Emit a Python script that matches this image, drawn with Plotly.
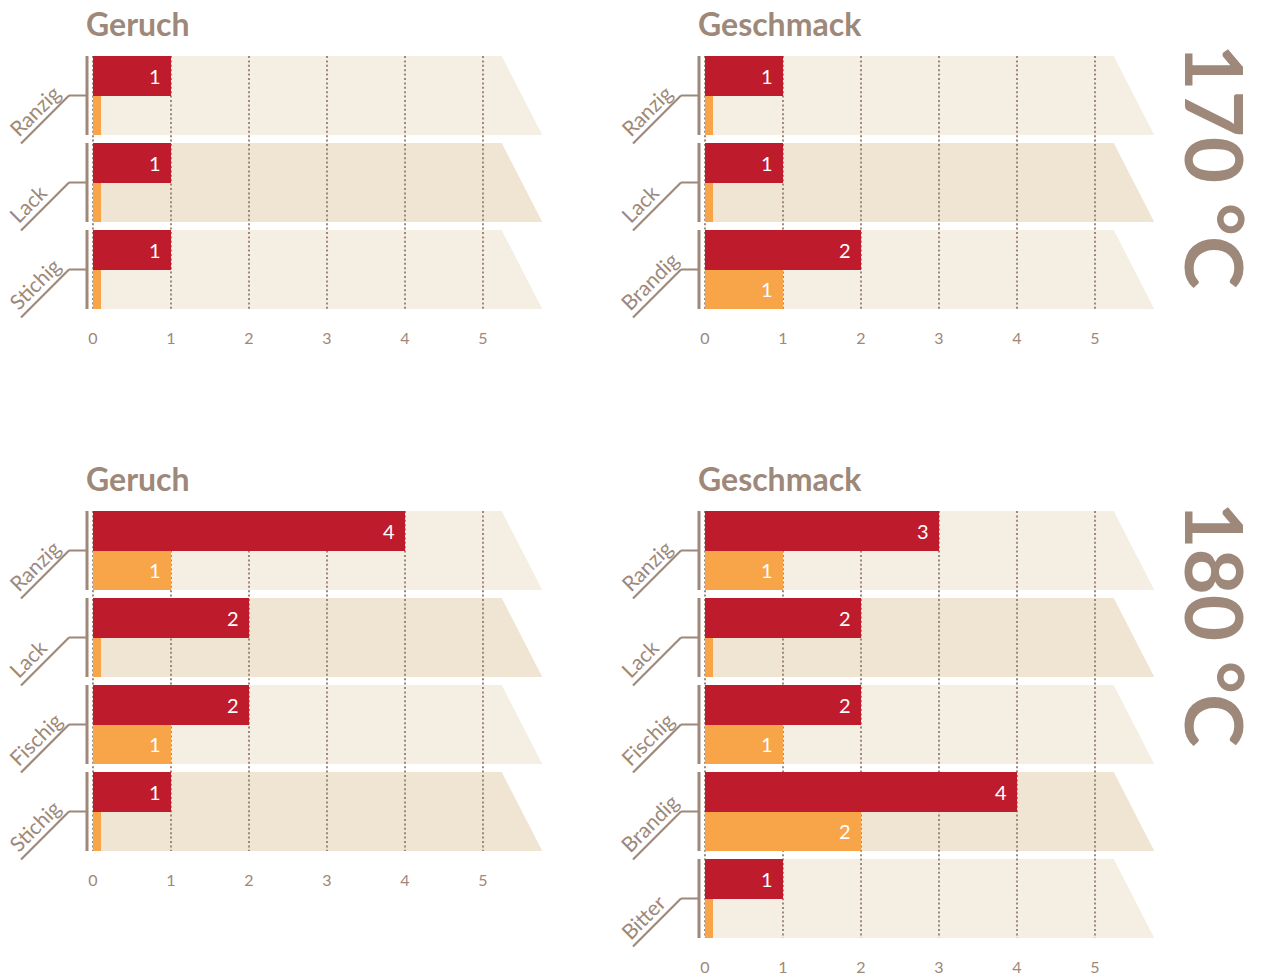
import plotly.graph_objects as go

# ---------------- data ----------------
temperatures = ["170 °C", "180 °C"]
panel_titles = ["Geruch", "Geschmack", "Geruch", "Geschmack"]

geruch170_cats = ["Ranzig", "Lack", "Stichig"]
geruch170_red = [1, 1, 1]
geruch170_orange = [0, 0, 0]

geschmack170_cats = ["Ranzig", "Lack", "Brandig"]
geschmack170_red = [1, 1, 2]
geschmack170_orange = [0, 0, 1]

geruch180_cats = ["Ranzig", "Lack", "Fischig", "Stichig"]
geruch180_red = [4, 2, 2, 1]
geruch180_orange = [1, 0, 1, 0]

geschmack180_cats = ["Ranzig", "Lack", "Fischig", "Brandig", "Bitter"]
geschmack180_red = [3, 2, 2, 4, 1]
geschmack180_orange = [1, 0, 1, 2, 0]

x_ticks = [0, 1, 2, 3, 4, 5]
x_ticklabels = ["0", "1", "2", "3", "4", "5"]

# ---------------- style ----------------
BROWN = "#9E8879"
RED = "#BE1C2D"
ORANGE = "#F8A54A"
BAND_LIGHT = "#F5EEE3"
BAND_DARK = "#F0E4D2"
FONT = "Lato"

W, H = 1263, 975
OFF = 8            # page body margin
UNIT = 78.0        # px per value unit
PITCH = 87.0       # px per row
BAND = 79.0        # px band height
HB = BAND / PITCH  # band height in data units
XMIN, XMAX = -1.08, 6.0
STUB = 0.1         # visual stub for zero values
PAD_TOP, PAD_BOT = 2.0, 14.0

panels = [
    dict(title=panel_titles[0], cats=geruch170_cats, red=geruch170_red, orange=geruch170_orange, x0px=93, top=56),
    dict(title=panel_titles[1], cats=geschmack170_cats, red=geschmack170_red, orange=geschmack170_orange, x0px=705, top=56),
    dict(title=panel_titles[2], cats=geruch180_cats, red=geruch180_red, orange=geruch180_orange, x0px=93, top=511),
    dict(title=panel_titles[3], cats=geschmack180_cats, red=geschmack180_red, orange=geschmack180_orange, x0px=705, top=511),
]

fig = go.Figure()
shapes = []
annotations = []
layout_axes = {}

for k, p in enumerate(panels):
    sfx = "" if k == 0 else str(k + 1)
    xa, ya = "x" + sfx, "y" + sfx
    n = len(p["cats"])
    x0 = p["x0px"] - OFF
    top = p["top"] - OFF

    left_px = max(0.0, x0 + XMIN * UNIT)
    right_px = x0 + XMAX * UNIT
    top_px = top - PAD_TOP
    bot_px = top + (n - 1) * PITCH + BAND + PAD_BOT
    y_top = -HB / 2 - PAD_TOP / PITCH
    y_bot = (n - 1) + HB / 2 + PAD_BOT / PITCH

    layout_axes["xaxis" + sfx] = dict(
        domain=[left_px / W, right_px / W], range=[XMIN, XMAX], anchor=ya,
        tickvals=x_ticks, ticktext=x_ticklabels, showgrid=False, zeroline=False,
        showline=False, ticks="outside", ticklen=1, tickcolor="rgba(0,0,0,0)",
        tickfont=dict(family=FONT, size=16, color=BROWN), fixedrange=True,
    )
    layout_axes["yaxis" + sfx] = dict(
        domain=[1 - bot_px / H, 1 - top_px / H], range=[y_bot, y_top], anchor=xa,
        showticklabels=False, showgrid=False, zeroline=False, showline=False,
        fixedrange=True,
    )

    ys = list(range(n))
    red_y = [i - HB / 4 for i in ys]
    orange_y = [i + HB / 4 for i in ys]

    fig.add_trace(go.Bar(
        x=p["red"], y=red_y, orientation="h", width=HB / 2,
        marker=dict(color=RED, line=dict(width=0)), xaxis=xa, yaxis=ya,
        showlegend=False, hoverinfo="skip",
    ))
    fig.add_trace(go.Bar(
        x=[v if v > 0 else STUB for v in p["orange"]], y=orange_y, orientation="h",
        width=HB / 2, marker=dict(color=ORANGE, line=dict(width=0)),
        xaxis=xa, yaxis=ya, showlegend=False, hoverinfo="skip",
    ))

    # value labels
    for vals, yv in ((p["red"], red_y), (p["orange"], orange_y)):
        for v, yy in zip(vals, yv):
            if v > 0:
                annotations.append(dict(
                    xref=xa, yref=ya, x=v, y=yy, text=str(v), showarrow=False,
                    xanchor="right", yanchor="middle", xshift=-8,
                    font=dict(family=FONT, size=20, color="white"),
                ))

    # bands (trapezoids)
    for i in ys:
        t, b = i - HB / 2, i + HB / 2
        shapes.append(dict(
            type="path", xref=xa, yref=ya,
            path=f"M 0,{t} L 5.24,{t} L 5.76,{b} L 0,{b} Z",
            fillcolor=BAND_LIGHT if i % 2 == 0 else BAND_DARK,
            line=dict(width=0), layer="below",
        ))
    # dotted gridlines
    for t in x_ticks:
        shapes.append(dict(
            type="line", xref=xa, yref=ya, x0=t, x1=t,
            y0=-HB / 2, y1=(n - 1) + HB / 2,
            line=dict(color=BROWN, width=2, dash="2px,2.4px"), layer="below",
        ))
    # category leader lines and labels
    for i, cat in enumerate(p["cats"]):
        common = dict(type="line", xref=xa, yref=ya, xsizemode="pixel", ysizemode="pixel",
                      xanchor=0, yanchor=i, layer="above")
        shapes.append(dict(common, x0=-6, x1=-6, y0=BAND / 2, y1=-BAND / 2,
                           line=dict(color=BROWN, width=3)))
        shapes.append(dict(common, x0=-24, x1=-6, y0=0, y1=0,
                           line=dict(color=BROWN, width=2.2)))
        shapes.append(dict(common, x0=-24, x1=-72, y0=0, y1=-48,
                           line=dict(color=BROWN, width=2.2)))
        annotations.append(dict(
            xref=xa, yref=ya, x=0, y=i, text=cat, showarrow=False,
            textangle=-45, xanchor="left", yanchor="bottom",
            xshift=-92, yshift=-48,
            font=dict(family=FONT, size=21, color=BROWN),
        ))

    # panel title
    annotations.append(dict(
        xref=xa, yref=ya, x=0, y=-HB / 2, text=f"<b>{p['title']}</b>", showarrow=False,
        xanchor="left", yanchor="bottom", xshift=-9, yshift=11,
        font=dict(family=FONT, size=32, color=BROWN),
    ))

# temperature labels
for temp, ycen in zip(temperatures, [166, 624]):
    annotations.append(dict(
        xref="paper", yref="paper", x=(1216 - OFF) / W, y=1 - (ycen - OFF) / H,
        text=f"<b>{temp}</b>",
        showarrow=False, textangle=90, xanchor="center", yanchor="middle",
        font=dict(family=FONT, size=80, color=BROWN),
    ))

fig.update_layout(
    width=W, height=H, margin=dict(l=0, r=0, t=0, b=0),
    paper_bgcolor="white", plot_bgcolor="rgba(0,0,0,0)",
    barmode="overlay", bargap=0, shapes=shapes, annotations=annotations,
    showlegend=False, **layout_axes,
)

fig.write_html("out.html")
